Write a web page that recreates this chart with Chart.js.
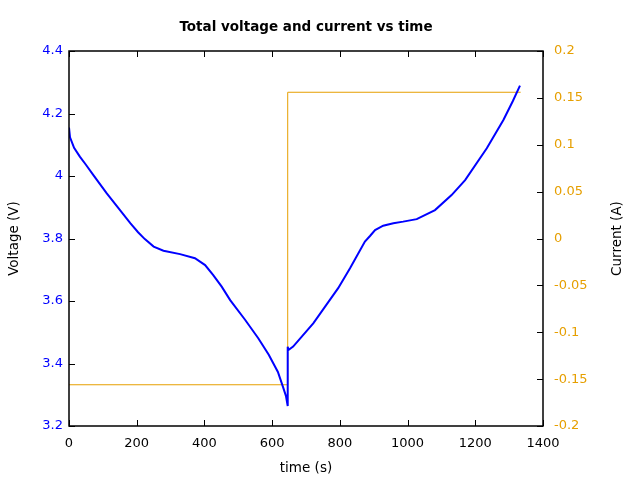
<!DOCTYPE html>
<html>
<head>
<meta charset="utf-8">
<script src="https://cdn.jsdelivr.net/npm/chart.js@4.4.0/dist/chart.umd.min.js"></script>
<style>
  body { margin: 0; background: #fff; }
</style>
</head>
<body>
<canvas id="mycanvas" width="640" height="480"></canvas>
<script>
// voltage trace (s, V)
var voltTime = [0, 3, 15, 32, 50, 72, 111, 146, 181, 204, 224, 250, 279, 328, 372, 402, 426, 451, 476, 520, 559, 590, 617, 632, 641, 646,
                646, 648, 662, 722, 795, 830, 874, 889, 904, 928, 958, 987, 1027, 1081, 1130, 1170, 1234, 1283, 1311, 1332];
var voltage = [4.155, 4.124, 4.09, 4.062, 4.036, 4.003, 3.945, 3.897, 3.849, 3.82, 3.798, 3.774, 3.761, 3.75, 3.737, 3.715, 3.683, 3.646, 3.603, 3.54, 3.481, 3.428, 3.373, 3.325, 3.295, 3.264,
               3.454, 3.443, 3.454, 3.529, 3.641, 3.705, 3.79, 3.808, 3.827, 3.841, 3.849, 3.854, 3.862, 3.891, 3.939, 3.987, 4.089, 4.179, 4.24, 4.289];

// current trace (s, A)
var currTime = [0, 646, 646, 1334];
var current = [-0.156, -0.156, 0.156, 0.156];

var xTicks = [0, 200, 400, 600, 800, 1000, 1200, 1400];
var vTicks = [3.2, 3.4, 3.6, 3.8, 4.0, 4.2, 4.4];
var iTicks = [-0.2, -0.15, -0.1, -0.05, 0, 0.05, 0.1, 0.15, 0.2];

var blue = '#0000ff';
var orange = '#e69f00';
var fontFamily = '"DejaVu Sans", sans-serif';

function toPoints(xs, ys) {
    var pts = [];
    for (var i in xs) {
        pts.push({ x: xs[i], y: ys[i] });
    }
    return pts;
}

function fixedTicks(list) {
    return function (scale) {
        scale.ticks = list.map(function (v) { return { value: v }; });
    };
}

function fmt(v) {
    return String(+(+v).toFixed(2));
}

// gnuplot style box with inward ticks, plus the right axis title read bottom-up
var frameTicks = {
    id: 'frameTicks',
    afterDatasetsDraw: function (chart) {
        var ctx = chart.ctx;
        var a = chart.chartArea;
        var s = chart.scales;
        var len = 6;
        ctx.save();
        ctx.strokeStyle = '#000';
        ctx.lineWidth = 1;
        ctx.beginPath();
        xTicks.forEach(function (v) {
            var px = Math.round(s.x.getPixelForValue(v)) + 0.5;
            ctx.moveTo(px, a.bottom); ctx.lineTo(px, a.bottom - len);
            ctx.moveTo(px, a.top); ctx.lineTo(px, a.top + len);
        });
        vTicks.forEach(function (v) {
            var py = Math.round(s.y.getPixelForValue(v)) + 0.5;
            ctx.moveTo(a.left, py); ctx.lineTo(a.left + len, py);
        });
        iTicks.forEach(function (v) {
            var py = Math.round(s.y1.getPixelForValue(v)) + 0.5;
            ctx.moveTo(a.right, py); ctx.lineTo(a.right - len, py);
        });
        ctx.stroke();
        ctx.lineWidth = 1.5;
        ctx.strokeRect(Math.round(a.left), Math.round(a.top), Math.round(a.right - a.left), Math.round(a.bottom - a.top));

        ctx.translate(s.y1.right - 23, (a.top + a.bottom) / 2);
        ctx.rotate(-Math.PI / 2);
        ctx.fillStyle = '#000';
        ctx.font = '13.5px ' + fontFamily;
        ctx.textAlign = 'center';
        ctx.textBaseline = 'middle';
        ctx.fillText('Current (A)', 0, 0);
        ctx.restore();
    }
};

var ctx = document.getElementById('mycanvas');

var chart = new Chart(ctx, {
    type: 'scatter',
    data: {
        datasets: [
            {
                label: 'Voltage',
                data: toPoints(voltTime, voltage),
                showLine: true,
                borderColor: blue,
                borderWidth: 2,
                pointRadius: 0,
                yAxisID: 'y'
            },
            {
                label: 'Current',
                data: toPoints(currTime, current),
                showLine: true,
                borderColor: orange,
                borderWidth: 1,
                pointRadius: 0,
                yAxisID: 'y1'
            }
        ]
    },
    options: {
        responsive: false,
        animation: false,
        layout: { padding: 0 },
        plugins: {
            legend: { display: false },
            tooltip: { enabled: false },
            title: {
                display: true,
                text: 'Total voltage and current vs time',
                fullSize: false,
                color: '#000',
                font: { family: fontFamily, size: 13.5, weight: 'bold' },
                padding: { top: 19, bottom: 15.8 }
            }
        },
        scales: {
            x: {
                type: 'linear',
                min: 0,
                max: 1400,
                afterBuildTicks: fixedTicks(xTicks),
                afterFit: function (scale) { scale.height = 54; },
                grid: { display: false, drawTicks: false },
                border: { display: false },
                ticks: {
                    color: '#000',
                    padding: 10,
                    maxRotation: 0,
                    font: { family: fontFamily, size: 13 },
                    callback: fmt
                },
                title: {
                    display: true,
                    text: 'time (s)',
                    color: '#000',
                    font: { family: fontFamily, size: 13.5 },
                    padding: { top: 0, bottom: 3 }
                }
            },
            y: {
                type: 'linear',
                position: 'left',
                min: 3.2,
                max: 4.4,
                afterBuildTicks: fixedTicks(vTicks),
                afterFit: function (scale) { scale.width = 69; },
                grid: { display: false, drawTicks: false },
                border: { display: false },
                ticks: {
                    color: blue,
                    padding: 6,
                    font: { family: fontFamily, size: 13 },
                    callback: fmt
                },
                title: {
                    display: true,
                    text: 'Voltage (V)',
                    color: '#000',
                    font: { family: fontFamily, size: 13.5 },
                    padding: { top: 6, bottom: 0 }
                }
            },
            y1: {
                type: 'linear',
                position: 'right',
                min: -0.2,
                max: 0.2,
                afterBuildTicks: fixedTicks(iTicks),
                afterFit: function (scale) { scale.width = 97; },
                grid: { display: false, drawTicks: false },
                border: { display: false },
                ticks: {
                    color: orange,
                    padding: 11,
                    font: { family: fontFamily, size: 13 },
                    callback: fmt
                },
                title: { display: false }
            }
        }
    },
    plugins: [frameTicks]
});
</script>
</body>
</html>
